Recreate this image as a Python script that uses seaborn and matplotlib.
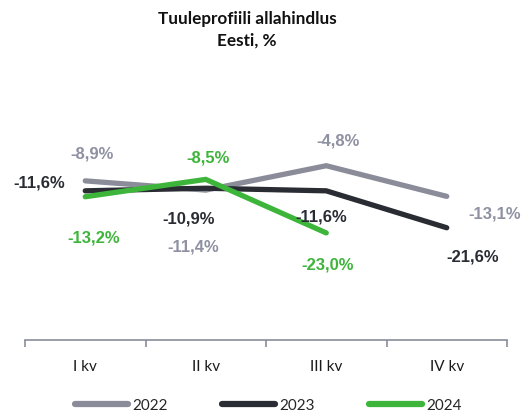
import matplotlib
matplotlib.use("Agg")
import matplotlib.pyplot as plt
import seaborn as sns
import pandas as pd
import numpy as np
from matplotlib.lines import Line2D

# ---- data ----
quarters = ["I kv", "II kv", "III kv", "IV kv"]
years = ["2022", "2023", "2024"]
v2022 = [-8.9, -11.4, -4.8, -13.1]
v2023 = [-11.6, -10.9, -11.6, -21.6]
v2024 = [-13.2, -8.5, -23.0, np.nan]
title = "Tuuleprofiili allahindlus\nEesti, %"

# ---- style ----
colors = {"2022": "#8A8D99", "2023": "#2A2C33", "2024": "#3DB53A"}
label_colors = {"2022": "#8E91A2", "2023": "#2A2C33", "2024": "#3DB53A"}
# label offsets in pixels (dx, dy) per year per quarter
label_offsets = {
    "2022": [(7, 28), (-13, -56), (12, 26), (48, -17)],
    "2023": [(-46, 9), (-17, -30), (-5, -25), (26, -28)],
    "2024": [(8, -40), (2, 22), (1, -31), (0, 0)],
}

rows = []
for yr, vals in zip(years, [v2022, v2023, v2024]):
    for i, (q, v) in enumerate(zip(quarters, vals)):
        rows.append({"quarter": q, "pos": i, "year": yr, "value": v})
df = pd.DataFrame(rows)

sns.set_theme(style="white")
plt.rcParams["font.family"] = ["Lato", "DejaVu Sans"]

fig = plt.figure(figsize=(5.25, 4.14), dpi=100)
ax = fig.add_axes([25 / 525, 1 - 341 / 414, (507 - 25) / 525, (341 - 149) / 414])

sns.lineplot(data=df.dropna(), x="pos", y="value", hue="year", palette=colors,
             linewidth=3.8, ax=ax, legend=False, sort=True)
for ln in ax.get_lines():
    ln.set_solid_capstyle("round")
    ln.set_solid_joinstyle("miter")

ax.set_xlim(-0.5, 3.5)
ax.set_ylim(-52, 0)
ax.set_xlabel("")
ax.set_ylabel("")
ax.set_yticks([])
ax.set_xticks(range(len(quarters)))
ax.set_xticklabels(quarters, fontsize=11, color="#1a1a1a")
ax.set_xticks(np.arange(-0.5, len(quarters), 1.0), minor=True)
ax.tick_params(axis="x", which="major", length=0, pad=14, bottom=True)
ax.tick_params(axis="x", which="minor", length=5, width=1.2, color="#8A8D99",
               direction="out", bottom=True)
for s in ["top", "left", "right"]:
    ax.spines[s].set_visible(False)
ax.spines["bottom"].set_color("#8A8D99")
ax.spines["bottom"].set_linewidth(1.2)
ax.patch.set_alpha(0)

for yr, vals in zip(years, [v2022, v2023, v2024]):
    for i, v in enumerate(vals):
        if np.isnan(v):
            continue
        dx, dy = label_offsets[yr][i]
        txt = f"{v:.1f}%".replace(".", ",")
        ax.annotate(txt, (i, v), xytext=(dx, dy), textcoords="offset pixels",
                    ha="center", va="center", fontsize=12, fontweight="bold",
                    color=label_colors[yr], family=["Liberation Sans", "DejaVu Sans"],
                    annotation_clip=False)

fig.text(247 / 525, 1 - 30 / 414, title, ha="center", va="center",
         fontsize=12.3, fontweight="bold", color="#111111", linespacing=1.4)

handles = [Line2D([0], [0], color=colors[y], lw=4.5, solid_capstyle="round") for y in years]
fig.legend(handles, years, loc="center", bbox_to_anchor=(268 / 525, 1 - 406 / 414),
           ncol=3, frameon=False, fontsize=11, handlelength=3.5, handletextpad=0.25,
           columnspacing=3.55, borderaxespad=0)

fig.savefig("out.png", dpi=100)
